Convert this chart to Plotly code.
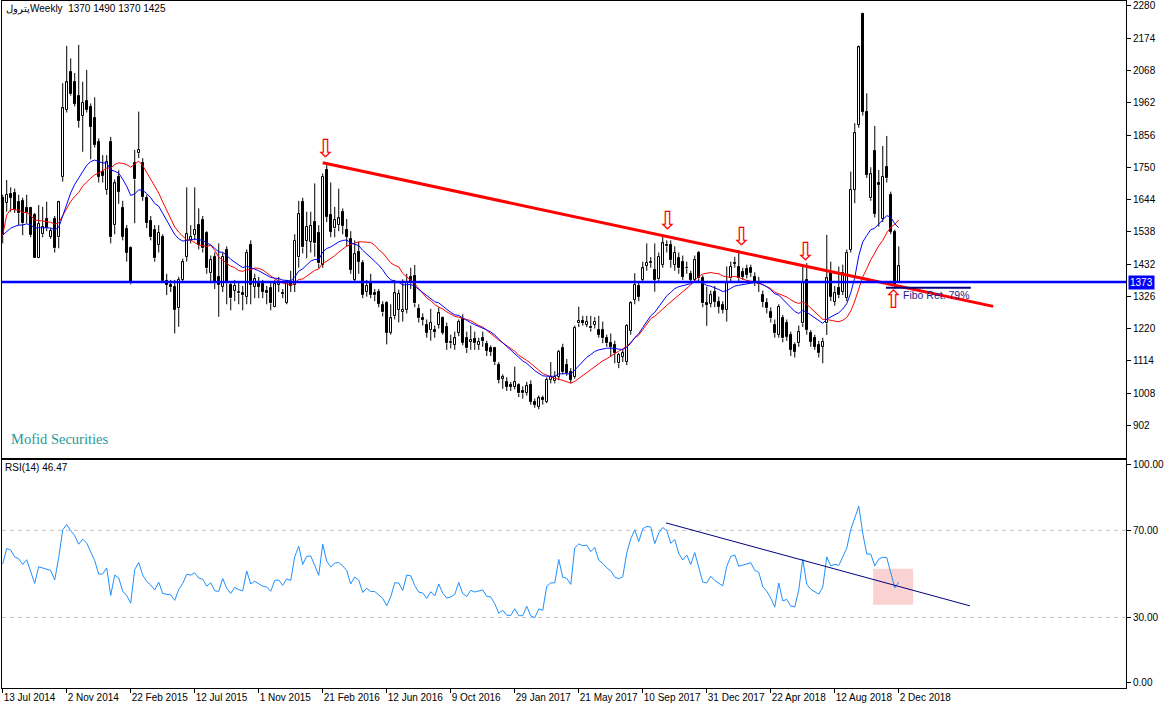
import plotly.graph_objects as go
import pandas as pd

# ---------------- data (weekly OHLC) ----------------
opens = [1648,1634,1661,1664,1637,1639,1615,1615,1593,1451,1530,1580,1522,1580,1520,1719,1938,2064,2031,1984,
         1919,1969,1947,1913,1834,1735,1675,1834,1560,1719,1615,1547,1484,1765,1796,1765,1650,1574,1544,1495,
         1522,1377,1363,1356,1287,1380,1456,1511,1528,1560,1577,1535,1402,1456,1391,1358,1478,1363,1345,1336,
         1336,1325,1495,1358,1374,1366,1345,1352,1292,1363,1336,1305,1369,1363,1454,1636,1509,1506,1571,1533,
         1429,1741,1593,1549,1560,1604,1544,1513,1380,1473,1434,1341,1371,1336,1341,1297,1303,1207,1261,1281,
         1276,1281,1391,1393,1283,1254,1232,1215,1215,1232,1254,1226,1172,1166,1207,1250,1188,1177,1186,1166,
         1188,1171,1155,1155,1100,1055,1046,1035,1029,1035,1016,1009,1035,980,963,991,980,1051,1047,1062,
         1155,1100,1079,1062,1237,1246,1232,1226,1232,1215,1215,1188,1172,1166,1106,1128,1111,1213,1314,1360,
         1380,1426,1440,1413,1382,1429,1495,1495,1430,1451,1440,1420,1398,1380,1467,1385,1303,1301,1341,1308,
         1298,1281,1385,1435,1421,1407,1415,1418,1391,1374,1330,1303,1276,1232,1199,1254,1237,1199,1166,1172,
         1237,1380,1204,1188,1166,1161,1237,1402,1308,1352,1341,1320,1478,1676,1889,2254,1933,1648,1805,1697,
         1579,1752,1659,1539,1370]
highs = [1660,1708,1684,1680,1660,1650,1660,1620,1600,1626,1620,1637,1550,1590,1640,2026,2149,2108,2060,2152,
         2031,2070,1960,1980,1845,1790,1790,1850,1710,1740,1640,1560,1490,1807,1933,1780,1660,1590,1560,1560,
         1530,1400,1380,1380,1390,1450,1684,1560,1684,1615,1590,1540,1460,1470,1500,1470,1490,1370,1380,1370,
         1360,1480,1510,1400,1390,1380,1360,1370,1380,1390,1350,1380,1410,1530,1640,1650,1604,1604,1697,1560,
         1730,1757,1700,1620,1680,1615,1580,1540,1510,1506,1445,1380,1400,1350,1350,1310,1310,1300,1380,1348,
         1382,1400,1420,1429,1300,1270,1250,1285,1230,1290,1260,1240,1200,1210,1250,1267,1210,1230,1210,1190,
         1210,1180,1165,1160,1110,1070,1060,1045,1095,1040,1030,1045,1050,990,1000,1000,1060,1110,1080,1150,
         1170,1120,1090,1230,1292,1262,1262,1262,1258,1262,1243,1200,1204,1180,1140,1150,1235,1310,1402,1370,
         1440,1500,1455,1500,1470,1528,1510,1510,1490,1470,1460,1440,1410,1460,1475,1395,1358,1345,1360,1325,
         1310,1424,1440,1456,1478,1420,1430,1430,1405,1390,1345,1320,1290,1250,1300,1265,1250,1210,1175,1230,
         1424,1435,1215,1200,1180,1190,1528,1440,1360,1424,1430,1480,1736,1895,2150,2258,1993,1750,1886,1741,
         1820,1853,1670,1545,1490]
lows = [1500,1604,1604,1600,1560,1527,1566,1520,1451,1451,1520,1540,1515,1470,1484,1703,1930,1985,1950,1880,
        1801,1930,1776,1815,1700,1700,1660,1500,1530,1630,1510,1440,1365,1566,1780,1640,1550,1510,1440,1470,
        1370,1330,1340,1204,1226,1370,1440,1500,1510,1480,1470,1400,1369,1350,1259,1340,1300,1280,1310,1300,
        1280,1300,1300,1320,1320,1320,1300,1280,1290,1340,1320,1300,1340,1340,1420,1467,1451,1470,1456,1418,
        1420,1570,1520,1520,1540,1530,1489,1400,1370,1400,1320,1325,1320,1310,1290,1260,1168,1200,1250,1240,
        1243,1270,1350,1290,1240,1230,1190,1180,1190,1220,1200,1150,1155,1150,1195,1165,1140,1150,1150,1150,
        1160,1130,1130,1100,1040,1022,1015,1015,1020,995,990,1000,970,960,955,970,975,1040,1040,1050,
        1070,1065,1040,1055,1225,1230,1225,1210,1220,1190,1172,1160,1128,1106,1090,1110,1100,1200,1300,1310,
        1370,1410,1420,1341,1370,1420,1470,1420,1410,1400,1380,1400,1370,1370,1370,1290,1229,1290,1290,1270,
        1270,1243,1370,1420,1375,1380,1385,1390,1360,1340,1290,1270,1240,1190,1190,1175,1180,1130,1125,1160,
        1225,1200,1160,1150,1125,1106,1199,1310,1295,1320,1330,1310,1470,1632,1880,1920,1715,1640,1585,1555,
        1570,1700,1530,1352,1370]
closes = [1527,1659,1650,1610,1599,1566,1599,1527,1451,1564,1555,1549,1541,1484,1635,1944,2029,1990,1958,1903,
          1962,1938,1884,1823,1719,1722,1768,1520,1697,1670,1522,1470,1369,1710,1807,1653,1568,1520,1451,1535,
          1377,1363,1356,1281,1380,1438,1531,1522,1544,1495,1484,1418,1445,1369,1363,1456,1369,1319,1360,1341,
          1330,1469,1363,1382,1358,1341,1336,1303,1366,1369,1334,1369,1360,1509,1596,1487,1555,1557,1500,1434,
          1719,1588,1538,1577,1582,1557,1522,1413,1465,1440,1330,1360,1330,1330,1301,1273,1207,1254,1336,1334,
          1281,1374,1369,1303,1254,1248,1207,1240,1210,1270,1207,1172,1177,1188,1243,1174,1155,1182,1172,1177,
          1180,1147,1144,1109,1051,1060,1029,1028,1046,1007,1007,1031,980,969,991,985,1051,1062,1062,1144,
          1079,1075,1051,1221,1246,1240,1243,1221,1243,1199,1188,1172,1161,1139,1133,1139,1229,1303,1363,1325,
          1418,1437,1435,1380,1456,1500,1490,1445,1470,1418,1391,1418,1380,1445,1385,1303,1298,1330,1308,1292,
          1281,1369,1424,1433,1385,1391,1396,1402,1374,1366,1308,1287,1254,1205,1292,1188,1194,1150,1144,1210,
          1374,1215,1177,1161,1139,1177,1385,1325,1338,1330,1402,1470,1676,1862,2144,1933,1725,1727,1597,1692,
          1719,1714,1539,1360,1425]

tick_bars = [0, 16, 32, 48, 64, 80, 96, 112, 128, 144, 160, 176, 192, 208, 224]
tick_labels = ["13 Jul 2014", "2 Nov 2014", "22 Feb 2015", "12 Jul 2015", "1 Nov 2015",
               "21 Feb 2016", "12 Jun 2016", "9 Oct 2016", "29 Jan 2017", "21 May 2017",
               "10 Sep 2017", "31 Dec 2017", "22 Apr 2018", "12 Aug 2018", "2 Dec 2018"]
price_ticks = [2280, 2174, 2068, 1962, 1856, 1750, 1644, 1538, 1432, 1326, 1220, 1114, 1008, 902]
rsi_ticks = [0, 30, 70, 100]
support_level = 1373
fibo_level = 1354
trend_x = [80.0, 247.6]
trend_y = [1765, 1293]
rsi_trend_x = [165.8, 241.8]
rsi_trend_y = [73.4, 35.3]
down_arrows_x = [80.6, 166.3, 184.6, 200.6]
down_arrows_y = [1813, 1574, 1521, 1472]
up_arrow_x = [222.6]
up_arrow_y = [1317]
# Wilder averages carried in from the weeks before the first visible bar
rsi_seed_gain = 30.0
rsi_seed_loss = 25.0

# ---------------- derived ----------------
n = len(closes)
idx = list(range(n))
cs = pd.Series(closes, dtype=float)
ema20 = cs.ewm(span=20, adjust=False).mean()
sma20 = cs.rolling(20, min_periods=1).mean()

ag, al = rsi_seed_gain, rsi_seed_loss
rsi = [100 * ag / (ag + al)]
for i in range(1, n):
    ch = closes[i] - closes[i - 1]
    ag = (ag * 13 + max(ch, 0)) / 14
    al = (al * 13 + max(-ch, 0)) / 14
    rsi.append(100 * ag / (ag + al))

body_base = [min(o, c) for o, c in zip(opens, closes)]
body_h = [abs(c - o) for o, c in zip(opens, closes)]
body_col = ["white" if c >= o else "black" for o, c in zip(opens, closes)]

wx, wy = [], []
for i, (o, h, l, c) in enumerate(zip(opens, highs, lows, closes)):
    top, bot = max(o, c), min(o, c)
    wx += [i, i, None, i, i, None]
    wy += [h, top, None, bot, l, None]

FONT = "Liberation Sans"
X_RANGE = [-0.175, 280.8]
fig = go.Figure()

fig.add_trace(go.Scatter(x=wx, y=wy, mode="lines", line=dict(color="black", width=1),
                         xaxis="x", yaxis="y", hoverinfo="skip"))
fig.add_trace(go.Bar(x=idx, y=body_h, base=body_base, width=0.5,
                     marker=dict(color=body_col, line=dict(color="black", width=1)),
                     xaxis="x", yaxis="y", hoverinfo="skip"))
fig.add_trace(go.Scatter(x=idx, y=sma20, mode="lines", line=dict(color="#FF0000", width=1),
                         xaxis="x", yaxis="y", hoverinfo="skip"))
fig.add_trace(go.Scatter(x=idx, y=ema20, mode="lines", line=dict(color="#0000FF", width=1),
                         xaxis="x", yaxis="y", hoverinfo="skip"))
fig.add_trace(go.Scatter(x=trend_x, y=trend_y, mode="lines", line=dict(color="#FF0000", width=3),
                         xaxis="x", yaxis="y", hoverinfo="skip"))
fig.add_trace(go.Scatter(x=idx, y=rsi, mode="lines", line=dict(color="#1E90FF", width=1),
                         xaxis="x2", yaxis="y2", hoverinfo="skip"))
fig.add_trace(go.Scatter(x=rsi_trend_x, y=rsi_trend_y, mode="lines", line=dict(color="#000080", width=1),
                         xaxis="x2", yaxis="y2", hoverinfo="skip"))

shapes = [
    dict(type="line", xref="paper", x0=0, x1=1, yref="y", y0=support_level, y1=support_level,
         line=dict(color="#0000FF", width=2.5)),
    dict(type="line", xref="x", x0=220.8, x1=242.0, yref="y", y0=fibo_level, y1=fibo_level,
         line=dict(color="#000080", width=2)),
    dict(type="rect", xref="x2", x0=217.6, x1=227.6, yref="y2", y0=35.8, y1=52.3,
         fillcolor="#FAD2D2", line=dict(width=0), layer="below"),
    dict(type="line", xref="paper", x0=0, x1=1, yref="y2", y0=70, y1=70,
         line=dict(color="#C0C0C0", width=1, dash="4px,4px"), layer="below"),
    dict(type="line", xref="paper", x0=0, x1=1, yref="y2", y0=30, y1=30,
         line=dict(color="#C0C0C0", width=1, dash="4px,4px"), layer="below"),
]

ann = [
    dict(xref="paper", yref="paper", x=0.002, y=0.9995, xanchor="left", yanchor="top",
         text="پترولWeekly\u00a0 1370 1490 1370 1425", showarrow=False,
         font=dict(family=FONT, size=10, color="black")),
    dict(xref="paper", yref="paper", x=0.006, y=0.3624, xanchor="left", yanchor="middle",
         text="Mofid Securities", showarrow=False,
         font=dict(family="Liberation Serif", size=14.5, color="#1F9A9A")),
    dict(xref="paper", yref="paper", x=0.001, y=0.3216, xanchor="left", yanchor="middle",
         text="RSI(14) 46.47", showarrow=False, font=dict(family=FONT, size=10, color="black")),
    dict(xref="x", yref="y", x=224.6, y=1330, xanchor="left", yanchor="middle",
         text="Fibo Ret. 79%", showarrow=False, font=dict(family=FONT, size=10.5, color="#1C1C8C")),
    dict(xref="paper", yref="y", x=1, y=support_level, xanchor="left", yanchor="middle", xshift=2,
         text="1373", showarrow=False, bgcolor="#0000FF", borderpad=1,
         font=dict(family=FONT, size=10, color="white")),
]
for ax_, ay_ in zip(down_arrows_x, down_arrows_y):
    ann.append(dict(xref="x", yref="y", x=ax_, y=ay_, text="⇩", showarrow=False,
                    font=dict(family="DejaVu Sans", size=25, color="#FF0000")))
for ax_, ay_ in zip(up_arrow_x, up_arrow_y):
    ann.append(dict(xref="x", yref="y", x=ax_, y=ay_, text="⇧", showarrow=False,
                    font=dict(family="DejaVu Sans", size=25, color="#FF0000")))

axis_common = dict(showgrid=False, zeroline=False, showline=True, mirror=True,
                   linecolor="black", linewidth=1, automargin=False)
fig.update_layout(
    width=1169, height=709,
    margin=dict(l=2, r=43, t=1, b=21, autoexpand=False),
    paper_bgcolor="white", plot_bgcolor="white",
    showlegend=False, barmode="overlay", bargap=0,
    font=dict(family=FONT, size=10, color="black"),
    xaxis=dict(domain=[0, 1], anchor="y", range=X_RANGE, showticklabels=False,
               ticks="", **axis_common),
    yaxis=dict(domain=[0.3355, 1], anchor="x", range=[796.4, 2296.4], side="right",
               tickvals=price_ticks, ticktext=[str(v) for v in price_ticks],
               ticks="outside", ticklen=4, tickcolor="black",
               tickfont=dict(family=FONT, size=10, color="black"), **axis_common),
    xaxis2=dict(domain=[0, 1], anchor="y2", range=X_RANGE, matches="x",
                tickvals=tick_bars, ticktext=tick_labels, ticks="outside", ticklen=4,
                tickcolor="black", ticklabelposition="outside right", tickangle=0,
                tickfont=dict(family=FONT, size=10, color="black"), **axis_common),
    yaxis2=dict(domain=[0, 0.3319], anchor="x2", range=[-2.43, 102.3], side="right",
                tickvals=rsi_ticks, ticktext=["%.2f" % v for v in rsi_ticks],
                ticks="outside", ticklen=4, tickcolor="black",
                tickfont=dict(family=FONT, size=10, color="black"), **axis_common),
    shapes=shapes, annotations=ann,
)

fig.write_html("out.html", config={"displayModeBar": False},
               post_script="document.body.style.margin='0px';")
